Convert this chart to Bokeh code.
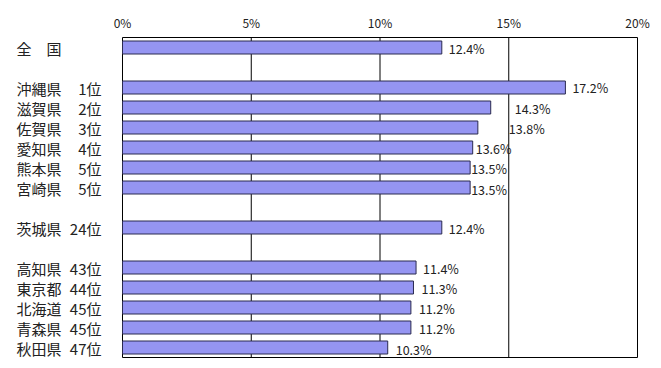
from bokeh.plotting import figure
from bokeh.models import Range1d, ColumnDataSource
from bokeh.core.properties import value
from bokeh.embed import file_html
from bokeh.resources import INLINE

# ---- data ----
groups = [
    [("全　国", "", 12.4)],
    [("沖縄県", "1位", 17.2), ("滋賀県", "2位", 14.3), ("佐賀県", "3位", 13.8),
     ("愛知県", "4位", 13.6), ("熊本県", "5位", 13.5), ("宮崎県", "5位", 13.5)],
    [("茨城県", "24位", 12.4)],
    [("高知県", "43位", 11.4), ("東京都", "44位", 11.3), ("北海道", "45位", 11.2),
     ("青森県", "45位", 11.2), ("秋田県", "47位", 10.3)],
]
names = [r[0] for g in groups for r in g]
ranks = [r[1] for g in groups for r in g]
values = [r[2] for g in groups for r in g]
tick_values = [0, 5, 10, 15, 20]
tick_labels = ["0%", "5%", "10%", "15%", "20%"]

# ---- layout (slot per row, blank slot between groups) ----
slots = []
s = 0
for g in groups:
    for _ in g:
        slots.append(s)
        s += 1
    s += 1
n_slots = s - 1  # 16

# label nudges in screen px (as placed in the original)
label_dx = [7, 7, 24, 31, 3, 1, 1, 7, 7, 8, 8, 8, 8]
label_dy = [1, 0, 1, 1, 1, 1, 2, 1, 1, 1, 1, 1, 2]

W, H = 661, 368
px_x = 25.75          # px per percent
px_y = 20.0           # px per slot
left_px, top_px = 122, 37
x_start = -left_px / px_x
x_end = x_start + W / px_x
y_top = -0.5 - top_px / px_y
y_bot = y_top + H / px_y

p = figure(width=W, height=H, output_backend="svg", toolbar_location=None,
           x_range=Range1d(x_start, x_end), y_range=Range1d(y_bot, y_top),
           x_axis_location=None, y_axis_location=None,
           min_border=0, min_border_left=0, min_border_right=0,
           min_border_top=0, min_border_bottom=0)
p.outline_line_color = None
p.xgrid.visible = False
p.ygrid.visible = False
p.background_fill_color = "white"
p.border_fill_color = "white"

top, bottom = -0.5, n_slots - 0.5
# plot-area box and gridlines
p.quad(left=[tick_values[0]], right=[tick_values[-1]], top=[top], bottom=[bottom],
       fill_color=None, line_color="black", line_width=1)
inner = tick_values[1:-1]
p.segment(x0=inner, x1=inner, y0=[top] * len(inner), y1=[bottom] * len(inner),
          line_color="black", line_width=1)

# tick labels along the top
p.text(x=tick_values, y=[top] * len(tick_values), text=tick_labels,
       y_offset=-15, text_font=value("Noto Sans CJK JP"), text_font_size="12px",
       text_color="#222222", text_baseline="middle", text_align="center")

src = ColumnDataSource(dict(y=slots, v=values, name=names, rank=ranks,
                            lab=[f"{v:.1f}%" for v in values],
                            dx=label_dx, dy=label_dy,
                            x0=[x_start] * len(values)))

p.hbar(y="y", left=0, right="v", height=0.65, source=src,
       fill_color="#9595F2", line_color="#2a2a50", line_width=1)

p.text(x="v", y="y", text="lab", x_offset="dx", y_offset="dy", source=src,
       text_font=value("Noto Sans CJK JP"), text_font_size="12.5px",
       text_color="#222222", text_baseline="middle", text_align="left")

p.text(x="x0", y="y", text="name", x_offset=16, y_offset=1, source=src,
       text_font=value("Noto Sans CJK JP"), text_font_size="15px",
       text_color="#222222", text_baseline="middle", text_align="left")
p.text(x="x0", y="y", text="rank", x_offset=101, y_offset=1, source=src,
       text_font=value("Noto Sans CJK JP"), text_font_size="15px",
       text_color="#222222", text_baseline="middle", text_align="right")

open("out.html", "w").write(file_html(p, INLINE))
